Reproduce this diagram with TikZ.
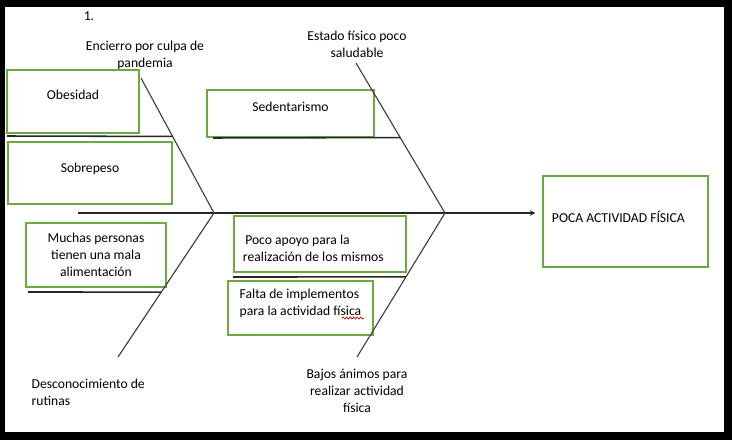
\documentclass[tikz,border=0pt]{standalone}
\usepackage{fontspec}
\setmainfont{Carlito}
\usetikzlibrary{calc,decorations.pathmorphing}
\definecolor{verde}{RGB}{106,170,64}
\definecolor{gris}{RGB}{64,64,64}
\begin{document}
\begin{tikzpicture}[
    x=0.025cm, y=-0.025cm,
    font=\fontsize{9.7}{12}\selectfont,
    causa/.style={rectangle, draw=verde, line width=0.75pt, text centered},
    etiqueta/.style={align=center, inner sep=1pt},
    hueso/.style={draw=gris, line width=0.8pt},
    rama/.style={draw=black!85, line width=1.1pt},
    arrow/.style={draw=black!85, line width=0.8pt, ->, >=stealth}
]
% marco
\fill[black] (0,0) rectangle (732,440);
\fill[white] (5,7) rectangle (724,432);

% puntos de la espina
\coordinate (cola) at (78,213);
\coordinate (jizq) at (214,213);
\coordinate (jder) at (445,213);
\coordinate (pencierro) at (141,78);
\coordinate (pdesc) at (118,357);
\coordinate (pestado) at (356,63);
\coordinate (pbajos) at (357,357);

% textos de las espinas
\node (numero) at (89,16) {1.};
\node[etiqueta] (encierro) at (145,55) {Encierro por culpa de\\pandemia};
\node[etiqueta] (estado) at (357,44) {Estado físico poco\\saludable};
\node[etiqueta, align=flush left, anchor=west] (desconoc) at (30,392) {Desconocimiento de\\rutinas};
\node[etiqueta] (bajos) at (357,391) {Bajos ánimos para\\realizar actividad\\física};

% causas
\node[causa, minimum width=3.3cm, minimum height=1.575cm, text depth=9.2pt] (obesidad) at (73,101.5) {Obesidad};
\node[causa, minimum width=4.1cm, minimum height=1.55cm, text depth=7.6pt] (sobrepeso) at (90,173) {Sobrepeso};
\node[causa, minimum width=3.5cm, minimum height=1.6cm, align=center] (muchas) at (96,255) {Muchas personas\\tienen una mala\\alimentación};
\node[causa, minimum width=4.175cm, minimum height=1.175cm, text depth=9.2pt] (sedent) at (290.5,113.5) {Sedentarismo};
\node[causa, minimum width=4.3cm, minimum height=1.4cm, text width=3.85cm, inner xsep=0.225cm, align=flush left, text depth=6.5pt] (poco) at (320,244) {\,Poco apoyo para la\\realización de los mismos};
\node[causa, minimum width=3.625cm, minimum height=1.35cm, align=flush left, text depth=7.7pt] (falta) at (300.5,308) {Falta de implementos\\para la actividad física};
\node[causa, minimum width=4.125cm, minimum height=2.275cm, text width=3.675cm, inner xsep=0.225cm, align=flush left, text depth=6.4pt] (efecto) at (625.5,221.5) {POCA ACTIVIDAD FÍSICA};

% espina y huesos
\draw[arrow] (cola) -- ([xshift=-5]efecto.west |- cola);
\draw[hueso] (jizq) -- (pencierro);
\draw[hueso] (jizq) -- (pdesc);
\draw[hueso] (jder) -- (pestado);
\draw[hueso] (jder) -- (pbajos);

% ramas
\coordinate (robes) at (7,136);
\coordinate (rmuchas) at (28,292);
\coordinate (rsedent) at (213,138);
\coordinate (rpoco) at (233,277);
\draw[rama] (robes) -- ($(jizq)!0.567!(pencierro)$);
\draw[rama] (rmuchas) -- ($(jizq)!0.549!(pdesc)$);
\draw[rama] (rsedent) -- ($(jder)!0.503!(pestado)$);
\draw[rama] (rpoco) -- ($(jder)!0.444!(pbajos)$);

% subrayado del corrector
\draw[red!80!black, line width=0.5pt, decorate, decoration={snake, amplitude=0.7pt, segment length=2.5pt}] (342,318) -- (364,318);

\end{tikzpicture}
\end{document}
